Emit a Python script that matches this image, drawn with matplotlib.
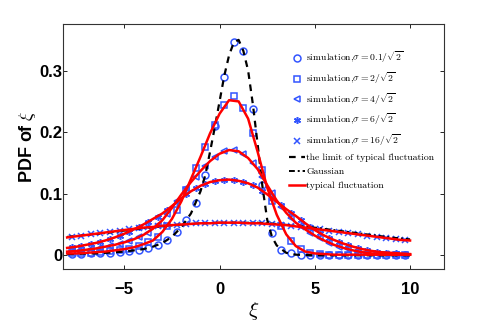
import matplotlib
matplotlib.use("Agg")
import matplotlib.pyplot as plt

# line grid (theory curves) and marker grid (simulation)
xi_line = [-8 + 0.5 * i for i in range(37)]
xi_sim = [-7.75 + 0.5 * i for i in range(36)]

# limit of typical fluctuation (finer near the peak)
limit_x = [-8, -7.5, -7, -6.5, -6, -5.5, -5, -4.5, -4, -3.5, -3, -2.5, -2, -1.5, -1,
           -0.75, -0.5, -0.25, 0, 0.25, 0.5, 0.75, 1, 1.25, 1.5, 1.75, 2, 2.25, 2.5, 2.75, 3,
           3.5, 4, 5, 6, 7, 8, 9, 10]
limit_y = [0.002, 0.002, 0.003, 0.003, 0.004, 0.005, 0.006, 0.008, 0.010, 0.014, 0.020, 0.030, 0.046, 0.068, 0.104,
           0.130, 0.168, 0.208, 0.250, 0.292, 0.325, 0.346, 0.350, 0.332, 0.300, 0.245, 0.180, 0.112, 0.058, 0.030, 0.016,
           0.004, 0.001, 0, 0, 0, 0, 0, 0]

gauss_x = [-8, -7, -6, -5, -4, -3, -2, -1, 0, 1, 2, 3, 4, 5, 6, 7, 8, 9, 10]
gauss_y = [0.030, 0.033, 0.036, 0.040, 0.044, 0.047, 0.050, 0.052, 0.053, 0.053,
           0.053, 0.051, 0.048, 0.045, 0.041, 0.037, 0.033, 0.029, 0.026]

# typical fluctuation curves
typ_s2 = [0.003, 0.003, 0.004, 0.005, 0.006, 0.008, 0.010, 0.013, 0.018, 0.024, 0.038, 0.059, 0.088,
          0.124, 0.160, 0.198, 0.230, 0.252, 0.250, 0.222, 0.168, 0.110, 0.066, 0.034, 0.015, 0.006,
          0.003, 0.002, 0.001, 0.001, 0.001, 0.001, 0.001, 0.001, 0.001, 0.001, 0.001]
typ_s4 = [0.006, 0.007, 0.009, 0.011, 0.014, 0.017, 0.021, 0.026, 0.033, 0.043, 0.057, 0.077, 0.099,
          0.119, 0.137, 0.153, 0.165, 0.171, 0.169, 0.158, 0.140, 0.114, 0.089, 0.069, 0.053, 0.042,
          0.032, 0.024, 0.017, 0.012, 0.008, 0.005, 0.003, 0.002, 0.001, 0.001, 0.001]
typ_s6 = [0.012, 0.014, 0.017, 0.020, 0.024, 0.029, 0.035, 0.042, 0.050, 0.059, 0.068, 0.080, 0.093,
          0.104, 0.113, 0.119, 0.122, 0.123, 0.121, 0.117, 0.110, 0.099, 0.087, 0.075, 0.064, 0.052,
          0.041, 0.032, 0.025, 0.019, 0.014, 0.010, 0.007, 0.005, 0.004, 0.003, 0.002]
typ_s16 = [0.029, 0.031, 0.033, 0.035, 0.037, 0.039, 0.041, 0.043, 0.045, 0.046, 0.048, 0.049, 0.050,
           0.051, 0.052, 0.052, 0.053, 0.053, 0.053, 0.052, 0.052, 0.051, 0.050, 0.049, 0.047, 0.045,
           0.043, 0.041, 0.039, 0.037, 0.035, 0.033, 0.031, 0.029, 0.027, 0.025, 0.024]

# simulation points
sim_s01 = [0.002, 0.0025, 0.003, 0.0035, 0.0045, 0.0055, 0.007, 0.009, 0.012, 0.017, 0.025, 0.038,
           0.057, 0.085, 0.130, 0.210, 0.290, 0.347, 0.332, 0.237, 0.115, 0.037, 0.008, 0.003,
           0.001, 0.001, 0.001, 0.001, 0.001, 0.001, 0.001, 0.001, 0.001, 0.001, 0.001, 0.001]
sim_s2 = [0.003, 0.004, 0.004, 0.005, 0.007, 0.009, 0.011, 0.015, 0.021, 0.030, 0.047, 0.073,
          0.106, 0.142, 0.176, 0.212, 0.244, 0.258, 0.240, 0.198, 0.138, 0.088, 0.048, 0.023,
          0.010, 0.004, 0.002, 0.001, 0.001, 0.001, 0.001, 0.001, 0.001, 0.001, 0.001, 0.001]
sim_s4 = [0.006, 0.008, 0.010, 0.012, 0.015, 0.019, 0.023, 0.029, 0.037, 0.050, 0.067, 0.088,
          0.109, 0.128, 0.145, 0.160, 0.169, 0.171, 0.165, 0.150, 0.128, 0.101, 0.079, 0.061,
          0.048, 0.037, 0.028, 0.020, 0.014, 0.010, 0.006, 0.004, 0.002, 0.002, 0.001, 0.001]
sim_s6 = [0.013, 0.015, 0.018, 0.022, 0.026, 0.032, 0.038, 0.046, 0.054, 0.063, 0.074, 0.087,
          0.099, 0.109, 0.116, 0.121, 0.123, 0.122, 0.119, 0.114, 0.105, 0.093, 0.081, 0.069,
          0.058, 0.046, 0.036, 0.028, 0.022, 0.016, 0.012, 0.008, 0.006, 0.004, 0.003, 0.002]
sim_s16 = [0.030, 0.032, 0.034, 0.036, 0.038, 0.040, 0.042, 0.044, 0.046, 0.047, 0.049, 0.050,
           0.051, 0.052, 0.052, 0.053, 0.053, 0.053, 0.053, 0.052, 0.052, 0.051, 0.050, 0.048,
           0.046, 0.044, 0.042, 0.040, 0.038, 0.036, 0.034, 0.032, 0.030, 0.028, 0.026, 0.025]

sim_labels = [r'simulation,$\sigma=0.1/\sqrt{2}$', r'simulation,$\sigma=2/\sqrt{2}$',
              r'simulation,$\sigma=4/\sqrt{2}$', r'simulation,$\sigma=6/\sqrt{2}$',
              r'simulation,$\sigma=16/\sqrt{2}$']

plt.rcParams['mathtext.fontset'] = 'cm'
tick_font = ['Liberation Sans Narrow', 'Liberation Sans', 'DejaVu Sans']

fig = plt.figure(figsize=(4.91, 3.27), dpi=100)
ax = fig.add_axes([0.129, 0.176, 0.776, 0.751])

blue = '#3355ff'
sims = [sim_s01, sim_s2, sim_s4, sim_s6, sim_s16]
marks = ['o', 's', '<', (6, 2, 0), 'x']
sizes = [5, 5, 5, 5, 4]
for ys, m, ms, lab in zip(sims, marks, sizes, sim_labels):
    ax.plot(xi_sim, ys, linestyle='none', marker=m, markersize=ms, markerfacecolor='none',
            markeredgecolor=blue, markeredgewidth=1.1, label=lab)

ax.plot(limit_x, limit_y, 'k--', lw=1.6, dashes=(3, 2.5), label='the limit of typical fluctuation')
ax.plot(gauss_x, gauss_y, 'k-.', lw=1.4, dashes=(3, 1.5, 1, 1.5), label='Gaussian')
for i, ys in enumerate([typ_s2, typ_s4, typ_s6, typ_s16]):
    ax.plot(xi_line, ys, color='red', lw=1.8, label='typical fluctuation' if i == 0 else None)

ax.set_xlim(-8.2, 11.8)
ax.set_ylim(-0.023, 0.376)
ax.set_xticks([-5, 0, 5, 10])
ax.set_yticks([0, 0.1, 0.2, 0.3])
ax.set_xticklabels(['\u22125', '0', '5', '10'])
ax.set_yticklabels(['0', '0.1', '0.2', '0.3'])
ax.tick_params(direction='in', length=3, width=0.6, top=True, right=True)
ax.tick_params(axis='x', pad=9)
ax.tick_params(axis='y', pad=0.5)
for lab in ax.get_xticklabels() + ax.get_yticklabels():
    lab.set_family(tick_font)
    lab.set_fontweight('bold')
    lab.set_fontsize(12)
for sp in ax.spines.values():
    sp.set_linewidth(0.8)
    sp.set_color('#333333')

ax.set_xlabel(r'$\xi$', fontsize=15, labelpad=2)
ax.set_ylabel(r'PDF of $\xi$', fontsize=13, fontweight='bold', family=tick_font, labelpad=1)

leg = ax.legend(loc='upper left', bbox_to_anchor=(0.592, 0.895), frameon=False,
                prop={'family': 'cmr10', 'size': 7}, handlelength=1.65, handletextpad=0.15,
                labelspacing=0.53, borderaxespad=0, borderpad=0)

fig.savefig('out.png', dpi=100)
